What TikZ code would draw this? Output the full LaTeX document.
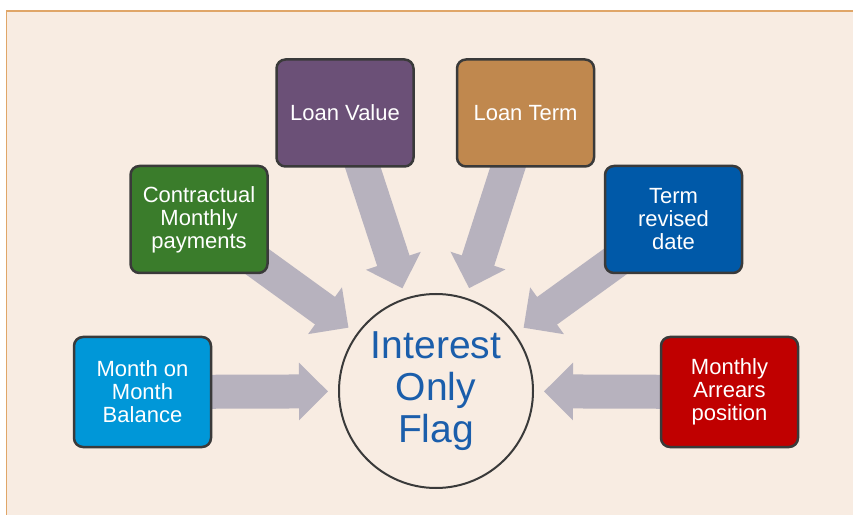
\documentclass[tikz,border=0pt]{standalone}
\usepackage{fontspec}
\setsansfont{Liberation Sans}
\usepackage{tikz}
\usetikzlibrary{arrows.meta,shapes}

\definecolor{panelfill}{RGB}{248,236,226}
\definecolor{panelline}{RGB}{224,166,104}
\definecolor{arrowgrey}{RGB}{183,178,190}
\definecolor{boxline}{RGB}{58,58,58}
\definecolor{balblue}{RGB}{0,151,216}
\definecolor{payleaf}{RGB}{58,124,43}
\definecolor{valplum}{RGB}{107,80,119}
\definecolor{termtan}{RGB}{192,136,78}
\definecolor{revblue}{RGB}{0,89,168}
\definecolor{arrred}{RGB}{192,0,0}
\definecolor{flagblue}{RGB}{27,94,171}

\pgfdeclarelayer{back}
\pgfsetlayers{back,main}

\begin{document}
\begin{tikzpicture}[x=1pt, y=1pt,
    box/.style={draw=boxline, line width=2.5pt, rounded corners=9pt,
      minimum width=137pt, minimum height=107pt, inner sep=2pt,
      align=center, text=white,
      font=\sffamily\fontsize{22}{23}\selectfont},
    flagnode/.style={circle, draw=boxline, line width=2pt,
      minimum size=194pt, inner sep=0pt, align=center, text=flagblue,
      font=\sffamily\fontsize{39}{42}\selectfont},
    fatarrow/.style={draw=arrowgrey, line width=34pt,
      -{Triangle[width=56pt, length=29pt]}, shorten >=10pt}]
            \useasboundingbox (0,0) rectangle (853,514);

            % Centre
            \node[flagnode] (flag) at (436,123) {Interest\\Only\\Flag};

            % Inputs
            \node[box, fill=balblue, minimum height=110pt] (bal) at (142.5,122) {Month on\\Month\\Balance};
            \node[box, fill=payleaf] (pay) at (199,294.5) {Contractual\\Monthly\\payments};
            \node[box, fill=valplum] (val) at (345,401) {Loan Value};
            \node[box, fill=termtan] (term) at (525.5,401) {Loan Term};
            \node[box, fill=revblue] (rev) at (673.5,294.5) {Term\\revised\\date};
            \node[box, fill=arrred, minimum height=110pt] (arr) at (729.5,122) {Monthly\\Arrears\\position};

            \begin{pgfonlayer}{back}
            % Panel
            \draw[panelline, fill=panelfill, line width=1.2pt] (6.5,-10) rectangle (870,503);

            % Arrows
            \draw[fatarrow] (bal.center) -- (flag);
            \draw[fatarrow] (pay.center) -- (flag);
            \draw[fatarrow] (val.center) -- (flag);
            \draw[fatarrow] (term.center) -- (flag);
            \draw[fatarrow] (rev.center) -- (flag);
            \draw[fatarrow] (arr.center) -- (flag);
            \end{pgfonlayer}

        \end{tikzpicture}
\end{document}
